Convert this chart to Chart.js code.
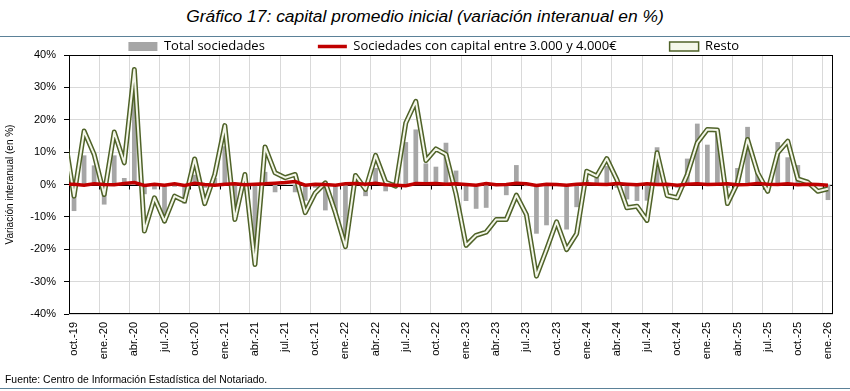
<!DOCTYPE html>
<html lang="es">
<head>
<meta charset="utf-8">
<script src="https://cdn.jsdelivr.net/npm/chart.js"></script>
<style>
    html, body { margin: 0; padding: 0; background: #fff; }
    body { width: 850px; height: 391px; position: relative; overflow: hidden; font-family: "Liberation Sans", Arial, sans-serif; }
    #titulo { position: absolute; left: 0; top: 6px; width: 850px; text-align: center; font: italic 17.4px "Liberation Sans Narrow", "Liberation Sans", sans-serif; color: #000; }
    #lineaTop { position: absolute; left: 0; top: 36px; width: 850px; border-top: 1.5px solid #5b8198; }
    #grafico { position: absolute; left: 0; top: 0; }
    #fuente { position: absolute; left: 5px; top: 374px; font-size: 10.4px; color: #000; }
    #lineaBottom { position: absolute; left: 0; top: 388px; width: 850px; border-top: 1.5px solid #5b8198; }
</style>
</head>
<body>
<div id="titulo">Gráfico 17: capital promedio inicial (variación interanual en %)</div>
<div id="lineaTop"></div>
<canvas id="grafico" width="850" height="375"></canvas>
<div id="fuente">Fuente: Centro de Información Estadística del Notariado.</div>
<div id="lineaBottom"></div>
<script>
/* Categorías: sep-19 (solo para el tramo recortado a la izquierda) hasta ene-26 */
const meses = ['ene.', 'feb.', 'mar.', 'abr.', 'may.', 'jun.', 'jul.', 'ago.', 'sep.', 'oct.', 'nov.', 'dic.'];
const categorias = [];
for (let a = 2019; a <= 2026; a++) {
    for (let m = 0; m < 12; m++) {
        if (a === 2019 && m < 8) continue;
        if (a === 2026 && m > 0) break;
        categorias.push(meses[m] + '-' + String(a).slice(2));
    }
}

/* Series (variación interanual, %) */
const totalSociedades = [null,
    -8.2, 9.0, 5.9, -6.2, 9.0, 2.0, 28.3, -3.0, -1.5, -11.8, -0.7, -5.9, 3.0, -1.0, 2.0, 11.8,
    -6.7, 2.0, -22.0, 3.9, -2.4, 1.0, -2.4, -5.0, -1.0, -8.0, -8.4, -16.0, 1.0, -3.6, 5.1, -2.1,
    0.5, 13.1, 17.0, 6.5, 5.5, 12.9, 4.3, -5.1, -7.5, -7.2, -0.5, -3.3, 6.0, -0.5, -15.2, -12.6,
    -0.5, -13.9, -7.0, 1.5, 2.1, 5.7, -1.0, -4.6, -5.1, -5.0, 11.5, -1.0, -1.0, 8.0, 18.8, 12.3,
    16.0, -1.0, 5.1, 17.8, 3.6, -1.0, 13.1, 8.4, 6.0, 0.5, -0.5, -4.8];
const capital3000a4000 = [0.0,
    0.1, -0.2, 0.2, 0.0, -0.1, 0.3, 0.6, -0.3, 0.1, -0.2, 0.2, -0.3, 0.4, 0.0, -0.2, 0.1,
    0.2, -0.1, 0.1, 0.2, 0.4, 0.6, 0.9, -0.2, 0.1, 0.0, -0.2, 0.2, 0.3, 0.1, 0.4, -0.1,
    -0.2, -0.4, 0.3, 0.2, 0.3, 0.1, 0.2, 0.0, -0.2, 0.3, -0.1, 0.0, 0.4, 0.2, -0.3, 0.1,
    0.0, -0.2, 0.1, 0.2, 0.1, 0.0, 0.3, 0.1, -0.1, 0.2, 0.0, 0.1, -0.2, 0.1, 0.2, 0.0,
    0.1, 0.2, -0.1, 0.0, 0.3, 0.1, 0.0, 0.2, -0.1, 0.1, 0.0, -0.2];
const resto = [16.2,
    -3.6, 16.5, 9.3, -3.1, 16.2, 6.7, 35.5, -14.4, -4.1, -11.3, -3.6, -5.1, 7.9, -5.9, 3.1, 18.2,
    -10.8, 3.1, -24.7, 11.6, 3.6, 2.1, 3.1, -8.7, -2.6, 0.5, -8.7, -19.2, 2.8, -1.5, 9.0, 0.7,
    -0.5, 19.0, 25.7, 7.4, 11.0, 9.3, -3.0, -18.8, -15.7, -14.7, -10.8, -10.8, -3.3, -9.3, -28.3, -20.1,
    -11.5, -20.1, -15.2, 4.1, 2.6, 8.0, 1.5, -7.2, -6.7, -11.1, 9.8, -3.4, -4.1, 3.0, 12.9, 17.0,
    16.8, -5.9, 0.5, 13.9, 3.6, -2.1, 9.8, 13.4, 1.7, 0.7, -2.1, -1.3];

const GRIS = '#a6a6a6';
const ROJO = '#c00000';
const OLIVA = '#4f6228';
const CLARO = '#f4f7ea';

/* Marco del área de trazado + eje horizontal en el 0 con sus marcas */
const marcoGrafico = {
    id: 'marcoGrafico',
    beforeDatasetsDraw: function (chart) {
        const ctx = chart.ctx;
        const a = chart.chartArea;
        const x = chart.scales.x;
        const y0 = Math.round(chart.scales.y.getPixelForValue(0)) + 0.5;
        ctx.save();
        ctx.strokeStyle = '#000';
        ctx.lineWidth = 1;
        ctx.strokeRect(Math.round(a.left) + 0.5, Math.round(a.top) + 0.5, Math.round(a.width) - 1, Math.round(a.height) - 1);
        ctx.beginPath();
        ctx.moveTo(a.left, y0);
        ctx.lineTo(a.right, y0);
        for (let i = x.min + 3; i <= x.max; i += 3) {
            const px = Math.round((x.getPixelForValue(i - 1) + x.getPixelForValue(i)) / 2) + 0.5;
            ctx.moveTo(px, y0);
            ctx.lineTo(px, y0 + 4);
        }
        ctx.stroke();
        ctx.restore();
    },
    afterLayout: function (chart) {
        // la leyenda de Excel va algo a la derecha y pegada al área de trazado
        const lg = chart.legend;
        if (!lg) return;
        lg.left += 34.5;
        lg.top = chart.chartArea.top - 8.5 - lg.options.labels.padding - 6.5;
    }
};

new Chart(document.getElementById('grafico').getContext('2d'), {
    data: {
        labels: categorias,
        datasets: [{
            type: 'bar',
            label: 'Total sociedades',
            data: totalSociedades,
            backgroundColor: GRIS,
            barPercentage: 0.47,
            categoryPercentage: 1,
            order: 4
        }, {
            type: 'line',
            label: 'Sociedades con capital entre 3.000 y 4.000€',
            data: capital3000a4000,
            borderColor: ROJO,
            borderWidth: 3.5,
            pointRadius: 0,
            pointHoverRadius: 0,
            order: 1
        }, {
            type: 'line',
            label: 'Resto',
            data: resto,
            borderColor: OLIVA,
            borderWidth: 5,
            borderJoinStyle: 'round',
            pointRadius: 0,
            pointHoverRadius: 0,
            order: 3
        }, {
            type: 'line',
            label: 'Resto (interior)',
            data: resto,
            borderColor: CLARO,
            borderWidth: 2,
            borderJoinStyle: 'round',
            pointRadius: 0,
            pointHoverRadius: 0,
            order: 2
        }]
    },
    options: {
        responsive: false,
        animation: false,
        devicePixelRatio: 1,
        layout: { padding: { left: 0, right: 17, top: 0, bottom: 6 } },
        plugins: {
            title: { display: false },
            tooltip: { enabled: false },
            legend: {
                position: 'top',
                maxHeight: 55,
                labels: {
                    usePointStyle: true,
                    pointStyleWidth: 29,
                    boxHeight: 9,
                    padding: 53,
                    color: '#000',
                    font: { family: 'Open Sans', size: 13 },
                    generateLabels: function () {
                        return [
                            { text: 'Total sociedades', pointStyle: 'rect', fillStyle: GRIS, strokeStyle: GRIS, lineWidth: 0, datasetIndex: 0 },
                            { text: 'Sociedades con capital entre 3.000 y 4.000€', pointStyle: 'line', fillStyle: ROJO, strokeStyle: ROJO, lineWidth: 3.5, datasetIndex: 1 },
                            { text: 'Resto', pointStyle: 'rect', fillStyle: CLARO, strokeStyle: OLIVA, lineWidth: 1.5, datasetIndex: 2 }
                        ];
                    }
                }
            }
        },
        scales: {
            x: {
                type: 'category',
                min: 'oct.-19',
                offset: true,
                afterFit: function (s) { s.height = 55; },
                border: { display: false },
                grid: {
                    offset: true,
                    drawTicks: false,
                    color: function (c) {
                        return (c.index > 0 && c.index % 3 === 0) ? '#d9d9d9' : 'rgba(0,0,0,0)';
                    }
                },
                ticks: {
                    autoSkip: false,
                    minRotation: 90,
                    maxRotation: 90,
                    padding: 8,
                    color: '#000',
                    font: { family: 'Liberation Sans', size: 11 },
                    callback: function (value) {
                        return (value - 1) % 3 === 0 ? this.getLabelForValue(value) : '';
                    }
                }
            },
            y: {
                min: -40,
                max: 40,
                afterFit: function (s) { s.width = 69; },
                border: { display: false },
                grid: { color: '#d9d9d9', tickColor: '#000', tickLength: 5 },
                ticks: {
                    stepSize: 10,
                    padding: 8,
                    color: '#000',
                    font: { family: 'Liberation Sans', size: 11 },
                    callback: function (v) { return v + '%'; }
                },
                title: {
                    display: true,
                    text: 'Variación interanual (en %)',
                    color: '#000',
                    font: { family: 'Liberation Sans', size: 10 },
                    padding: { top: 4, bottom: 2 }
                }
            }
        }
    },
    plugins: [marcoGrafico]
});
</script>
</body>
</html>
